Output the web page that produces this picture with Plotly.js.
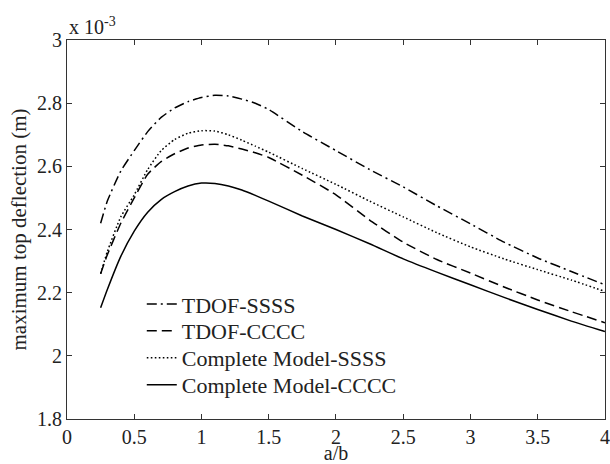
<!DOCTYPE html>
<html>
<head>
<meta charset="utf-8">
<script src="https://cdn.plot.ly/plotly-3.0.1.min.js"></script>
<style>html,body{margin:0;padding:0;background:#fff;}#chart{width:610px;height:464px;}</style>
</head>
<body>
<div id="chart"></div>
<script>
// a/b ratio
const ratio = [0.25, 0.3, 0.4, 0.5, 0.6, 0.7, 0.8, 0.9, 1.0, 1.1, 1.2, 1.3, 1.4, 1.5, 1.75, 2.0, 2.25, 2.5, 2.75, 3.0, 3.25, 3.5, 3.75, 4.0];
// maximum top deflection (x 10^-3 m)
const tdofSSSS = [2.42, 2.49, 2.585, 2.65, 2.71, 2.755, 2.785, 2.805, 2.818, 2.825, 2.823, 2.813, 2.80, 2.78, 2.71, 2.65, 2.59, 2.535, 2.475, 2.418, 2.36, 2.31, 2.267, 2.225];
const tdofCCCC = [2.26, 2.32, 2.42, 2.50, 2.575, 2.615, 2.64, 2.658, 2.668, 2.67, 2.665, 2.655, 2.643, 2.628, 2.572, 2.51, 2.43, 2.36, 2.305, 2.262, 2.218, 2.177, 2.14, 2.105];
const completeSSSS = [2.26, 2.33, 2.44, 2.51, 2.59, 2.65, 2.685, 2.705, 2.713, 2.712, 2.70, 2.683, 2.664, 2.645, 2.593, 2.543, 2.49, 2.44, 2.39, 2.345, 2.307, 2.273, 2.24, 2.204];
const completeCCCC = [2.152, 2.21, 2.315, 2.395, 2.455, 2.495, 2.52, 2.538, 2.547, 2.546, 2.538, 2.525, 2.508, 2.49, 2.443, 2.40, 2.355, 2.307, 2.265, 2.225, 2.185, 2.147, 2.11, 2.077];
const seriesNames = ['TDOF-SSSS', 'TDOF-CCCC', 'Complete Model-SSSS', 'Complete Model-CCCC'];
const xTicks = [0, 0.5, 1, 1.5, 2, 2.5, 3, 3.5, 4];
const yTicks = [1.8, 2, 2.2, 2.4, 2.6, 2.8, 3];

const font = 'Times New Roman';
const ink = '#222';
const legendIds = ['legend', 'legend2', 'legend3', 'legend4'];
const legendY = [0.303, 0.232, 0.161, 0.090];
const mk = (y, name, dash, i) => ({
  x: ratio, y: y, name: name, type: 'scatter', mode: 'lines', legend: legendIds[i],
  line: {color: '#000', width: 1.5, dash: dash, shape: 'spline', smoothing: 0.5}
});
const data = [
  mk(tdofSSSS, seriesNames[0], '10px,4px,2px,4px', 0),
  mk(tdofCCCC, seriesNames[1], '10px,5px', 1),
  mk(completeSSSS, seriesNames[2], '1.6px,2.4px', 2),
  mk(completeCCCC, seriesNames[3], 'solid', 3)
];
const axisCommon = {
  showgrid: false, zeroline: false, showline: true, linecolor: '#333', linewidth: 1,
  mirror: 'ticks', ticks: 'inside', ticklen: 5, tickcolor: '#333',
  tickfont: {family: font, size: 20, color: ink}
};
const legendBase = (y) => ({x: 0.139, y: y, xanchor: 'left', yanchor: 'middle', bgcolor: 'rgba(0,0,0,0)',
  borderwidth: 0, font: {family: font, size: 22, color: ink}});
const layout = {
  width: 610, height: 464,
  margin: {l: 67, r: 5, t: 40, b: 45},
  paper_bgcolor: '#fff', plot_bgcolor: '#fff',
  font: {family: font, color: ink},
  showlegend: true,
  legend: legendBase(legendY[0]),
  legend2: legendBase(legendY[1]),
  legend3: legendBase(legendY[2]),
  legend4: legendBase(legendY[3]),
  xaxis: Object.assign({}, axisCommon, {
    range: [0, 4.0005], tickvals: xTicks, ticktext: xTicks.map(String),
    title: {text: 'a/b', font: {family: font, size: 20, color: ink}, standoff: 6}
  }),
  yaxis: Object.assign({}, axisCommon, {
    range: [1.8, 3.0002], tickvals: yTicks, ticktext: yTicks.map(String),
    title: {text: 'maximum top deflection (m)', font: {family: font, size: 21, color: ink}, standoff: 4}
  }),
  annotations: [{
    xref: 'paper', yref: 'paper', x: 0, y: 1, xanchor: 'left', yanchor: 'bottom',
    text: 'x 10<sup>-3</sup>', showarrow: false, font: {family: font, size: 20, color: ink}
  }]
};
Plotly.newPlot('chart', data, layout, {staticPlot: true, displayModeBar: false});
</script>
</body>
</html>
